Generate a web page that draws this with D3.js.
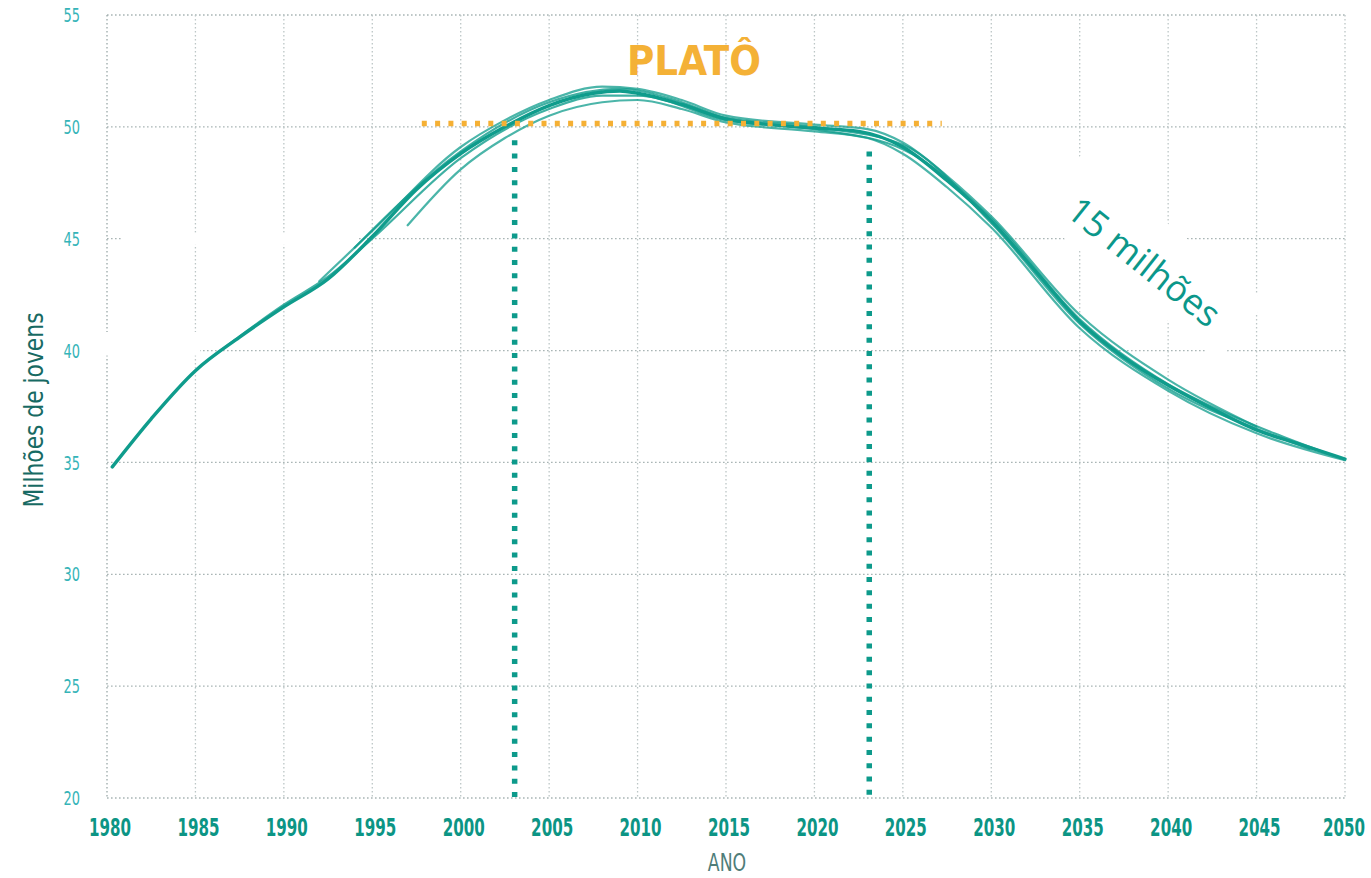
<!DOCTYPE html>
<html><head><meta charset="utf-8">
<script src="https://cdn.jsdelivr.net/npm/d3@7"></script>
<style>body{margin:0;background:#fff}svg{display:block}</style>
</head><body><svg id="c" width="1371" height="878"></svg>
<script>
// ---- data ----
const yearTicks = [1980,1985,1990,1995,2000,2005,2010,2015,2020,2025,2030,2035,2040,2045,2050];
const valueTicks = [20,25,30,35,40,45,50,55];

const projMain = [[1980.3,34.8],[1982.5,36.95],[1985,39.1],[1987.5,40.6],[1990,41.95],[1992.5,43.2],[1995,45.1],[1997.5,47.2],[2000,48.8],[2002.5,50.0],[2005,50.95],[2007.5,51.5],[2009,51.6],[2010,51.5],[2012.5,51.0],[2015,50.35],[2017.5,50.1],[2020,49.95],[2022.5,49.8],[2025,49.1],[2027.5,47.6],[2030,45.8],[2032.5,43.55],[2035,41.3],[2037.5,39.7],[2040,38.45],[2042.5,37.4],[2045,36.45],[2047.5,35.8],[2050,35.15]];
const projUpper = [[1992,43.1],[1995,45.35],[2000,49.1],[2002.5,50.3],[2005,51.2],[2008,51.8],[2010,51.7],[2012.5,51.2],[2015,50.5],[2020,50.1],[2023,49.9],[2025,49.3],[2027.5,47.8],[2030,46.0],[2035,41.6],[2040,38.7],[2045,36.6]];
const projLower = [[1997,45.6],[2000,48.1],[2002.5,49.5],[2005,50.5],[2008,51.1],[2010,51.2],[2012.5,50.8],[2015,50.2],[2020,49.8],[2023,49.5],[2025,48.8],[2027.5,47.3],[2030,45.5],[2035,41.0],[2040,38.2],[2045,36.3],[2050,35.1]];
const projMid1 = [[1986,39.75],[1990,42.05],[1992.5,43.3],[1995,45.0],[2000,48.6],[2005,50.8],[2008,51.4],[2010,51.4],[2015,50.3],[2020,49.9],[2025,49.0],[2030,45.9],[2035,41.4],[2040,38.5],[2043,37.3],[2046,36.3],[2049,35.4]];
const projMid2 = [[1994,44.6],[2000,48.9],[2005,51.1],[2009,51.7],[2012.5,51.1],[2015,50.4],[2020,50.0],[2025,49.2],[2030,45.7],[2035,41.2],[2040,38.3],[2045,36.5],[2048,35.6]];

const platoRange = [1997.8, 2027.2];
const platoLevel = 50.15;
const platoMarkers = [[2003.05, 49.4],[2023.1, 48.9]];
const platoLabel = "PLATÔ";
const dropLabel = "15 milhões";
const yTitle = "Milhões de jovens";
const xTitle = "ANO";

// ---- drawing ----
const svg = d3.select("#c");
const x = d3.scaleLinear().domain([1980,2050]).range([107,1345]);
const y = d3.scaleLinear().domain([20,55]).range([798,15]);
const narrow = "'Liberation Sans Narrow','Arial Narrow','DejaVu Sans Condensed',sans-serif";
const teal = "#0f9c8c";

svg.append("rect").attr("width",1371).attr("height",878).attr("fill","#fff");

// grid
const grid = svg.append("g");
grid.selectAll("line.h").data(valueTicks).join("line")
  .attr("x1",x(1980)).attr("x2",x(2050)).attr("y1",d=>y(d)).attr("y2",d=>y(d))
  .attr("stroke","#a9b5b5").attr("stroke-width",1.3).attr("stroke-dasharray","1.6,2.4");
grid.selectAll("line.v").data(yearTicks).join("line")
  .attr("y1",y(55)).attr("y2",y(20)).attr("x1",d=>x(d)).attr("x2",d=>x(d))
  .attr("stroke",(d,i)=> i===0 ? "#9aa8a8" : "#bcc6c6").attr("stroke-width",1.3).attr("stroke-dasharray","1.6,2.4");

// white patches (erased areas in the original)
svg.append("rect").attr("x",121).attr("y",y(45)-6).attr("width",236).attr("height",12).attr("fill","#fff");
svg.append("rect").attr("x",100).attr("y",332).attr("width",100).attr("height",y(40)-332+5).attr("fill","#fff");
svg.append("rect").attr("x",-118).attr("y",-38).attr("width",236).attr("height",76)
  .attr("fill","#fff").attr("transform","translate(1150,258) rotate(38.5)");

// axis labels
svg.append("g").selectAll("text").data(valueTicks).join("text")
  .attr("transform",d=>`translate(80,${y(d)}) scale(0.72,1)`).attr("dy","0.36em").attr("text-anchor","end")
  .attr("font-family",narrow).attr("font-size",20).attr("fill","#35b4b8").text(d=>d);
svg.append("g").selectAll("text").data(yearTicks).join("text")
  .attr("transform",d=>`translate(${x(d)+(d===2050?-1:3)},836) scale(0.7,1)`).attr("text-anchor","middle")
  .attr("font-family",narrow).attr("font-weight","bold").attr("font-size",24).attr("fill","#0c9585")
  .text(d=>d);
svg.append("text").attr("transform","translate(43,410) rotate(-90)").attr("text-anchor","middle")
  .attr("font-family",narrow).attr("font-size",27).attr("fill","#176a63")
  .attr("textLength",195).attr("lengthAdjust","spacingAndGlyphs").text(yTitle);
svg.append("text").attr("transform","translate(727,871) scale(0.8,1)").attr("text-anchor","middle")
  .attr("font-family",narrow).attr("font-size",24).attr("fill","#4f7d79").text(xTitle);

// plateau vertical markers
svg.append("g").selectAll("line").data(platoMarkers).join("line")
  .attr("x1",d=>x(d[0])).attr("x2",d=>x(d[0])).attr("y1",d=>y(d[1])).attr("y2",y(20)+2)
  .attr("stroke","#0d9a8b").attr("stroke-width",5.5).attr("stroke-dasharray","5,8.3");

// curves
const line = d3.line().x(d=>x(d[0])).y(d=>y(d[1])).curve(d3.curveMonotoneX);
const strands = [
  {d:projUpper,w:2.2,o:0.75},
  {d:projLower,w:2.2,o:0.75},
  {d:projMid1,w:2.2,o:0.8},
  {d:projMid2,w:2.2,o:0.8},
  {d:projMain,w:3.4,o:1}
];
svg.append("g").selectAll("path").data(strands).join("path")
  .attr("d",s=>line(s.d)).attr("fill","none").attr("stroke",teal)
  .attr("stroke-width",s=>s.w).attr("stroke-opacity",s=>s.o)
  .attr("stroke-linecap","round").attr("stroke-linejoin","round");

// plateau line
svg.append("line").attr("x1",x(platoRange[0])).attr("x2",x(platoRange[1]))
  .attr("y1",y(platoLevel)).attr("y2",y(platoLevel))
  .attr("stroke","#f5b034").attr("stroke-width",5.5).attr("stroke-dasharray","5,8.3");

svg.append("text").attr("x",694).attr("y",75).attr("text-anchor","middle")
  .attr("font-family",narrow).attr("font-weight","bold").attr("font-size",40).attr("fill","#f4b136")
  .attr("textLength",134).attr("lengthAdjust","spacingAndGlyphs").text(platoLabel);

svg.append("text").attr("transform","translate(1144,262) rotate(38.5)")
  .attr("text-anchor","middle").attr("dy","0.35em")
  .attr("font-family","'Open Sans','Noto Sans',sans-serif").attr("font-size",36).attr("fill","#0b978a")
  .text(dropLabel);
</script></body></html>
